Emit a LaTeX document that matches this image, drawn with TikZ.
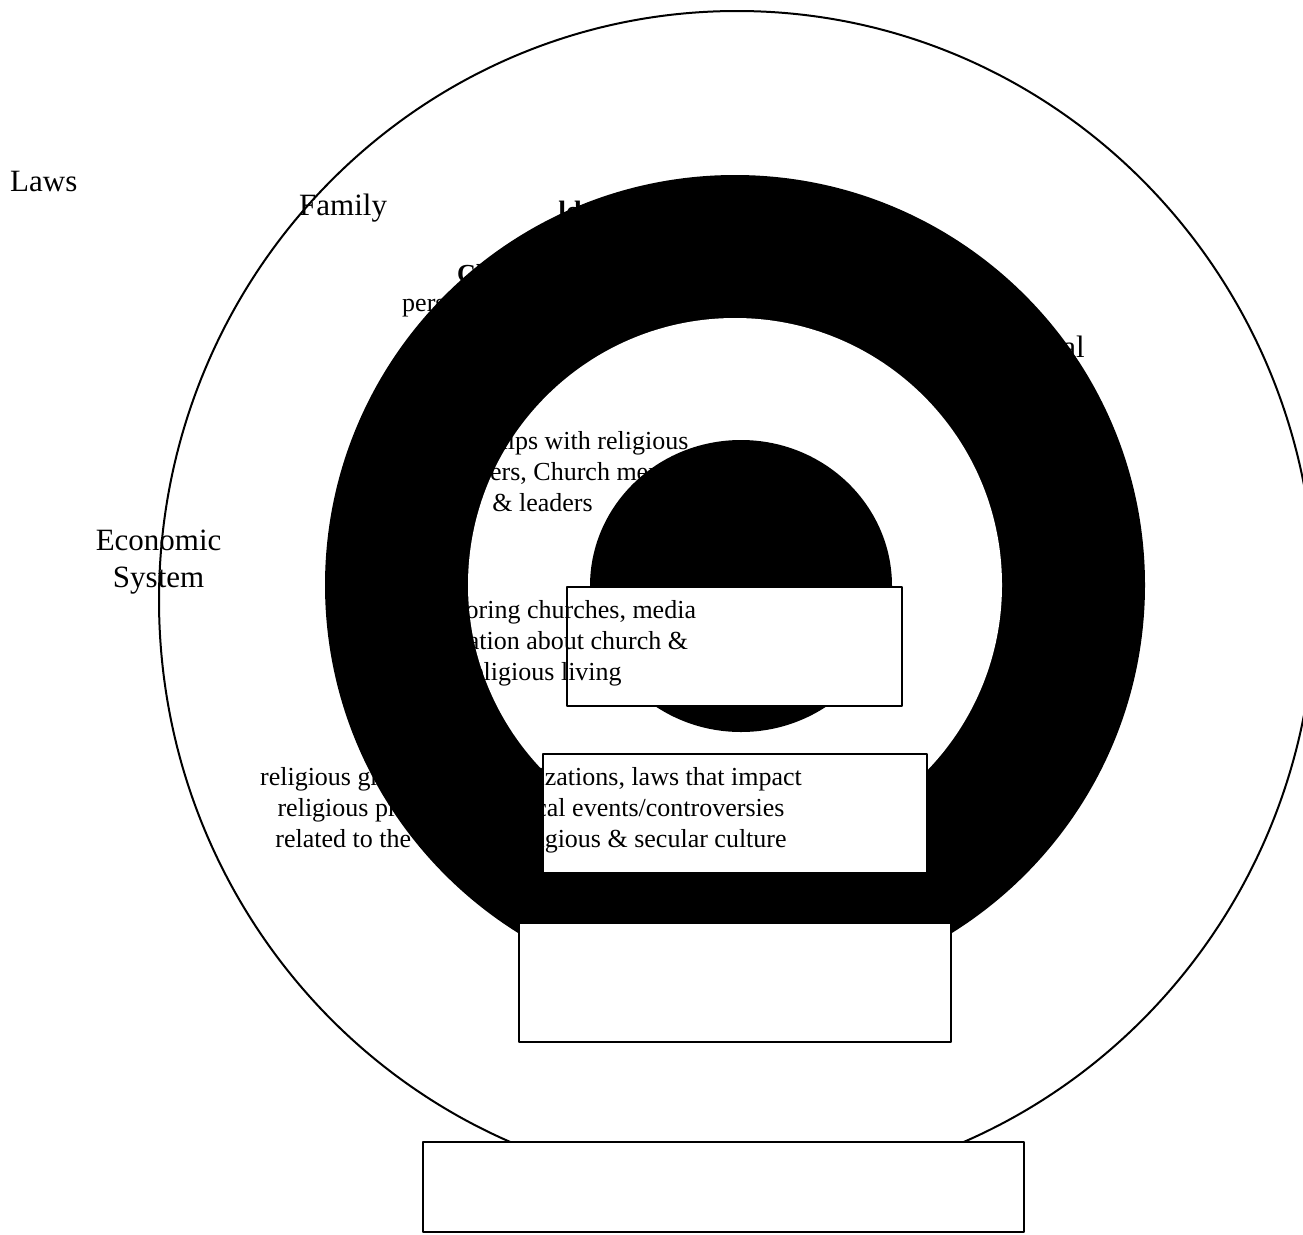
\documentclass[tikz,border=0pt]{standalone}
\usepackage{fontspec}
\setmainfont{Liberation Serif}
\newcommand{\lblfont}{\fontsize{31}{37}\selectfont}
\newcommand{\txtfont}{\fontsize{26}{31}\selectfont}

\begin{document}
\begin{tikzpicture}[x=1pt, y=-1pt, line join=round]
\tikzset{outline/.style={line width=2pt}, panel/.style={draw, fill=white, line width=1.3pt}, lbl/.style={font=\lblfont, inner sep=0pt}, blurb/.style={font=\txtfont, align=center, inner sep=0pt}}
\useasboundingbox (0,0) rectangle (1303,1234);

% ring centres (px)
\coordinate (R0) at (737,600);
\coordinate (R1) at (735,585);
\coordinate (R2) at (741,586);

% rings
\draw[outline, fill=white] (R0) ellipse [x radius=578, y radius=589];
\fill[black] (R1) circle [radius=410];
\fill[white] (R1) circle [radius=267];
\fill[black] (R2) ellipse [x radius=151, y radius=146];

% label boxes
\draw[panel] (567,587) rectangle (902,706);
\draw[panel] (543,754) rectangle (927,873);
\draw[panel] (519,923) rectangle (951,1042);
\draw[panel] (423,1142) rectangle (1024,1232);

% outer labels
\node[lbl, anchor=base west] (laws) at (10,191) {Laws};
\node[lbl, anchor=base west] (family) at (299,215) {Family};
\node[lbl, align=center, anchor=base] (econ) at (158.6,587) {Economic\\System};
\node[lbl, anchor=base east] (polit) at (1085,357) {Political};

% ring headings
\node[font=\bfseries\fontsize{28}{33}\selectfont, inner sep=0pt, anchor=base east] (world) at (582,220) {ld};
\node[font=\bfseries\txtfont, inner sep=0pt, anchor=base west] (church) at (457,282) {Church};
\node[font=\txtfont, inner sep=0pt, anchor=base west] (pers) at (402,311) {personal};

% ring texts (base = last line)
\node[blurb, anchor=base] (rel) at (542.5,511) {Relationships with religious\\teachers/peers, Church members\\\& leaders};
\node[blurb, anchor=base] (nbr) at (542.6,680) {Neighboring churches, media\\information about church \&\\religious living};
\node[blurb, anchor=base] (grp) at (531,847) {religious groups and organizations, laws that impact\\religious practices, political events/controversies\\related to the blend of religious \& secular culture};
\end{tikzpicture}
\end{document}
